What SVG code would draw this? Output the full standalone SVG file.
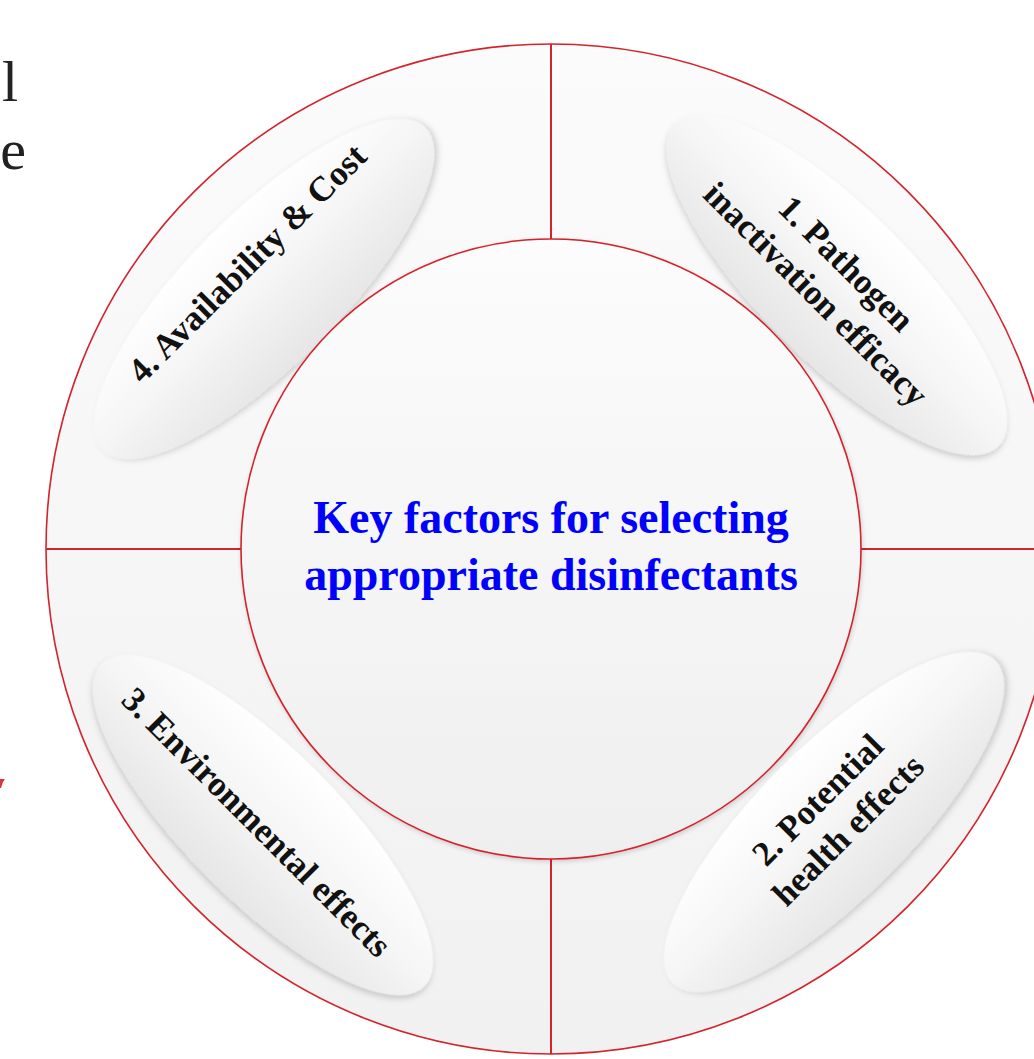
<svg xmlns="http://www.w3.org/2000/svg" width="1034" height="1059" viewBox="0 0 1034 1059">
  <style>
    .ring { stroke: #d3232c; stroke-width: 1.6; }
    .divider { stroke: #d3232c; stroke-width: 2; fill: none; }
    .pill { fill: url(#pillFill); filter: url(#pillShadow); }
    .label { font-family: "Liberation Serif", "Times New Roman", serif; font-weight: bold; font-size: 35px; fill: #111; text-anchor: middle; }
    .title { font-family: "Liberation Serif", "Times New Roman", serif; font-weight: bold; font-size: 46px; fill: #0000ff; text-anchor: middle; }
    .margin { font-family: "Liberation Serif", "Times New Roman", serif; font-size: 58px; fill: #222; }
  </style>
  <defs>
    <linearGradient id="outerFill" x1="0" y1="0" x2="0" y2="1">
      <stop offset="0" stop-color="#fbfbfb"/>
      <stop offset="1" stop-color="#f1f1f1"/>
    </linearGradient>
    <linearGradient id="innerFill" x1="0" y1="0" x2="0" y2="1">
      <stop offset="0" stop-color="#fcfcfc"/>
      <stop offset="1" stop-color="#efefef"/>
    </linearGradient>
    <linearGradient id="pillFill" x1="0" y1="0" x2="0" y2="1">
      <stop offset="0" stop-color="#ffffff"/>
      <stop offset="0.45" stop-color="#f6f6f6"/>
      <stop offset="1" stop-color="#e6e6e6"/>
    </linearGradient>
    <filter id="pillShadow" x="-20%" y="-40%" width="140%" height="180%">
      <feDropShadow dx="2" dy="3" stdDeviation="3" flood-color="#000" flood-opacity="0.18"/>
    </filter>
    <filter id="discShadow" x="-10%" y="-10%" width="120%" height="120%">
      <feDropShadow dx="1" dy="2" stdDeviation="2" flood-color="#000" flood-opacity="0.15"/>
    </filter>
  </defs>

  <rect width="1034" height="1059" fill="#ffffff"/>

  <!-- text fragments at the left margin -->
  <text class="margin" x="2" y="101">l</text>
  <text class="margin" x="26" y="169" text-anchor="end">e</text>
  <polygon points="0,779 5,779 3,782 1,788 0,788" fill="#d9363c"/>

  <!-- outer disc -->
  <g id="outer-ring">
    <circle cx="551" cy="549" r="505" fill="url(#outerFill)" class="ring"/>
  </g>

  <!-- quadrant dividers -->
  <g id="connectors">
    <line class="divider" x1="551" y1="44" x2="551" y2="239"/>
    <line class="divider" x1="551" y1="859" x2="551" y2="1054"/>
    <line class="divider" x1="46" y1="549" x2="241" y2="549"/>
    <line class="divider" x1="861" y1="549" x2="1056" y2="549"/>
  </g>

  <!-- factor 1 -->
  <g id="factor-1">
    <ellipse class="pill" cx="837" cy="285" rx="228" ry="76" transform="rotate(45 837 285)"/>
    <g transform="translate(831 279) rotate(45)">
      <text class="label" x="0" y="-10">1. Pathogen</text>
      <text class="label" x="0" y="33">inactivation efficacy</text>
    </g>
  </g>

  <!-- factor 2 -->
  <g id="factor-2">
    <ellipse class="pill" cx="834" cy="822" rx="228" ry="76" transform="rotate(-45 834 822)"/>
    <g transform="translate(833 815) rotate(-45)">
      <text class="label" x="0" y="-10">2. Potential</text>
      <text class="label" x="0" y="33">health effects</text>
    </g>
  </g>

  <!-- factor 3 -->
  <g id="factor-3">
    <ellipse class="pill" cx="263" cy="825" rx="228" ry="76" transform="rotate(45 263 825)"/>
    <g transform="translate(257 822) rotate(45)">
      <text class="label" x="0" y="12">3. Environmental effects</text>
    </g>
  </g>

  <!-- factor 4 -->
  <g id="factor-4">
    <ellipse class="pill" cx="264" cy="289" rx="228" ry="76" transform="rotate(-45 264 289)"/>
    <g transform="translate(247 263) rotate(-45)">
      <text class="label" x="0" y="12">4. Availability &amp; Cost</text>
    </g>
  </g>

  <!-- central disc -->
  <g id="center">
    <circle cx="551" cy="549" r="310" fill="url(#innerFill)" class="ring" filter="url(#discShadow)"/>
    <text class="title" x="551" y="533">Key factors for selecting</text>
    <text class="title" x="551" y="590">appropriate disinfectants</text>
  </g>
</svg>
